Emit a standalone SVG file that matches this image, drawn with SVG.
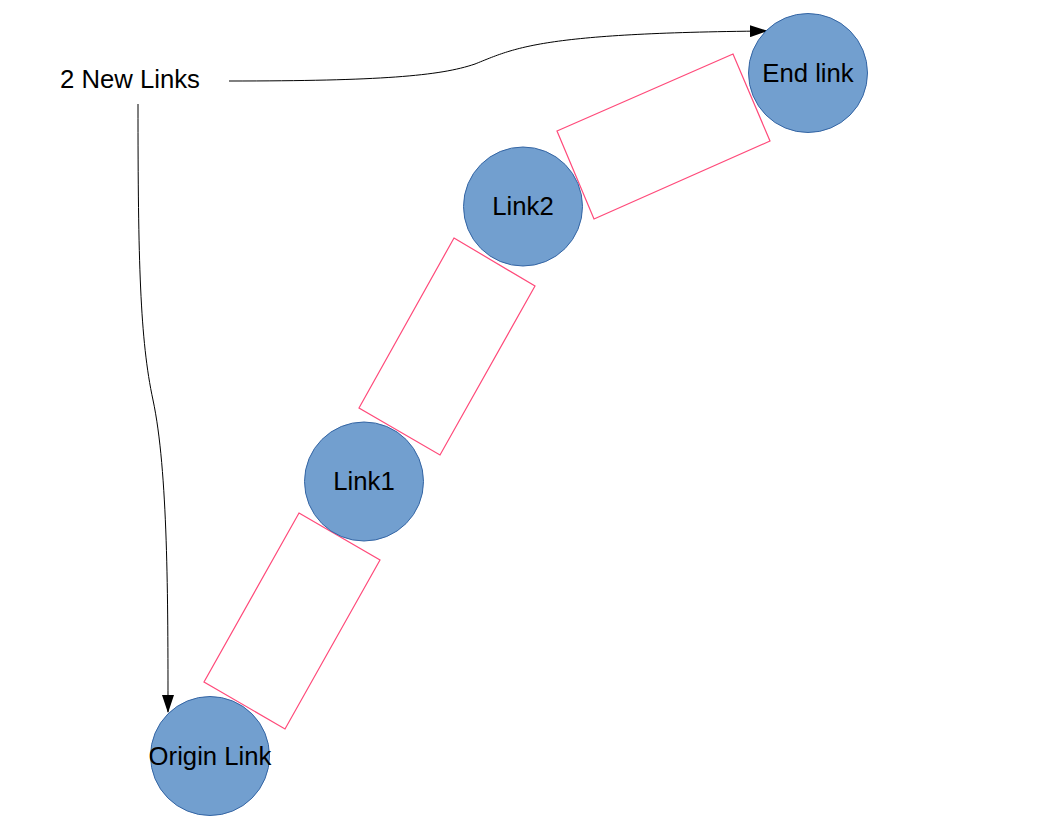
<svg xmlns="http://www.w3.org/2000/svg" width="1056" height="816" viewBox="0 0 1056 816">
<style>
.seg{fill:#ffffff;stroke:#ff4a7a;stroke-width:1.2}
.node{fill:#729fcf;stroke:#3465a4;stroke-width:1}
.lbl{font-family:"Liberation Sans",Arial,sans-serif;font-size:25.7px;fill:#000;text-anchor:middle}
.con{fill:none;stroke:#000;stroke-width:1}
</style>
<defs>
<marker id="arr" markerWidth="18" markerHeight="12" refX="17" refY="6" orient="auto" markerUnits="userSpaceOnUse">
<path d="M0,0 L18,6 L0,12 Z" fill="#000"/>
</marker>
</defs>
<g id="segments">
<polygon class="seg" points="557,131 733,54 770,141 594,219"/>
<polygon class="seg" points="454,238 535,286 440,455 359,408"/>
<polygon class="seg" points="299,513 380,560 285,729 204,682"/>
</g>
<g id="connectors">
<path class="con" d="M229,81 C380,81 440,76 475,64 C515,48 540,33 767,31" marker-end="url(#arr)"/>
<path class="con" d="M138,104 C138,260 140,340 153,400 C168,470 168,600 168,712" marker-end="url(#arr)"/>
</g>
<g id="title">
<text class="lbl" x="130" y="88">2 New Links</text>
</g>
<g id="endlink">
<circle class="node" cx="808" cy="73" r="59.5"/>
<text class="lbl" x="808" y="82">End link</text>
</g>
<g id="link2">
<circle class="node" cx="523" cy="206.5" r="59.5"/>
<text class="lbl" x="523" y="215">Link2</text>
</g>
<g id="link1">
<circle class="node" cx="364" cy="481.5" r="59.5"/>
<text class="lbl" x="364" y="490">Link1</text>
</g>
<g id="origin">
<circle class="node" cx="210" cy="756" r="59.5"/>
<text class="lbl" x="210" y="765">Origin Link</text>
</g>
</svg>
